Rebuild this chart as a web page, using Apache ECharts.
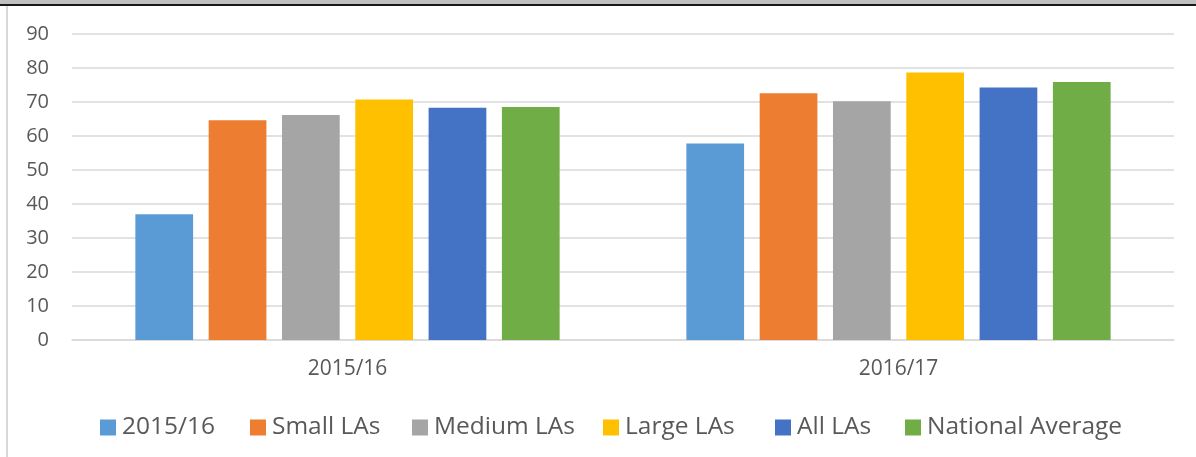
<!DOCTYPE html>
<html>
<head>
    <meta charset="utf-8"/>
    <title>LA bar chart</title>
    <script src="https://cdn.jsdelivr.net/npm/echarts@6/dist/echarts.min.js"></script>
    <style>
        html, body { margin: 0; padding: 0; background: #fff; }
        #chart { width: 1196px; height: 457px; }
    </style>
</head>
<body>
<div id="chart"></div>
<script>
    // 数据
    var categories = ['2015/16', '2016/17'];
    var seriesNames = ['2015/16', 'Small LAs', 'Medium LAs', 'Large LAs', 'All LAs', 'National Average'];
    var colors = ['#5b9bd5', '#ed7d31', '#a5a5a5', '#ffc000', '#4472c4', '#70ad47'];
    var values2015 = [37, 64.6, 66.2, 70.7, 68.3, 68.5];
    var values2016 = [57.8, 72.6, 70.2, 78.7, 74.3, 75.9];
    var yTicks = [0, 10, 20, 30, 40, 50, 60, 70, 80, 90];

    var textColor = '#595959';
    var fontName = 'Open Sans';
    // 图例各项的左边位置（Excel 图例间距不均匀）
    var legendLeft = [100, 250, 412, 603, 775, 905];

    var series = [];
    var legends = [];
    for (var i = 0; i < seriesNames.length; i++) {
        series.push({
            name: seriesNames[i],
            type: 'bar',
            data: [values2015[i], values2016[i]],
            barGap: '27%',
            barCategoryGap: '23%',
            itemStyle: { color: colors[i] }
        });
        legends.push({
            data: [seriesNames[i]],
            top: 415,
            left: legendLeft[i],
            padding: 0,
            icon: 'rect',
            itemWidth: 16,
            itemHeight: 16,
            selectedMode: false,
            textStyle: { color: textColor, fontSize: 24.5, fontFamily: fontName, padding: [0, 0, 0, 1] }
        });
    }

    var chart = echarts.init(document.getElementById('chart'));
    var option = {
        animation: false,
        textStyle: { fontFamily: fontName },
        grid: { left: 72, right: 22, top: 34, bottom: 117, containLabel: false },
        graphic: [
            // 顶部被裁掉的标题栏
            { type: 'rect', shape: { x: 0, y: 0, width: 1196, height: 5 }, style: { fill: '#c0c0c0' } },
            { type: 'rect', shape: { x: 0, y: 4, width: 1196, height: 2 }, style: { fill: '#1a1a1a' } },
            // 左边框
            { type: 'rect', shape: { x: 6, y: 6, width: 2, height: 451 }, style: { fill: '#d9d9d9' } }
        ],
        legend: legends,
        xAxis: {
            type: 'category',
            data: categories,
            axisLine: { show: true, lineStyle: { color: '#d9d9d9', width: 1.5 } },
            axisTick: { show: false },
            axisLabel: { color: textColor, fontSize: 21, margin: 19, fontFamily: fontName }
        },
        yAxis: {
            type: 'value',
            min: yTicks[0],
            max: yTicks[yTicks.length - 1],
            interval: 10,
            axisLine: { show: false },
            axisTick: { show: false },
            axisLabel: { color: textColor, fontSize: 20, margin: 23, fontFamily: fontName },
            splitLine: { lineStyle: { color: '#d9d9d9', width: 1.5 } }
        },
        series: series
    };
    chart.setOption(option);
</script>
</body>
</html>
